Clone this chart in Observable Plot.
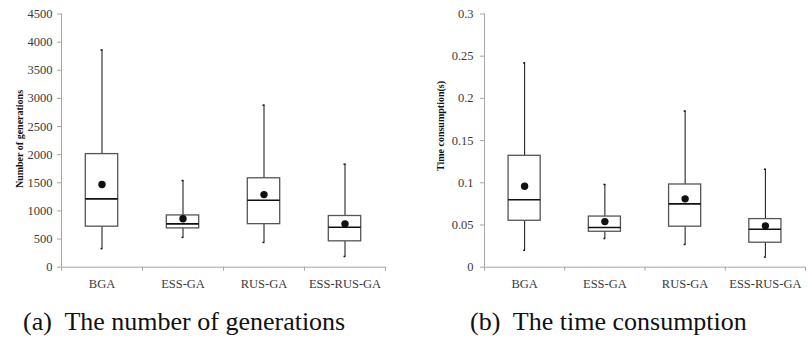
<!DOCTYPE html>
<html>
<head>
<meta charset="utf-8">
<script src="https://cdn.jsdelivr.net/npm/d3@7"></script>
<script src="https://cdn.jsdelivr.net/npm/@observablehq/plot@0.6"></script>
<style>
  html, body { margin: 0; padding: 0; background: #fff; }
  #wrap { position: relative; width: 809px; height: 343px; overflow: hidden;
          font-family: "Liberation Serif", Tinos, "Times New Roman", "Nimbus Roman", FreeSerif, "DejaVu Serif", serif; }
  .panel { position: absolute; top: 0; }
  .ytitle { position: absolute; transform: translate(-50%, -50%) rotate(-90deg); white-space: nowrap;
            font-weight: bold; font-size: 10px; color: #111; }
  .caption { position: absolute; top: 309px; font-size: 26px; line-height: 26px; color: #111; white-space: nowrap; }
</style>
</head>
<body>
<div id="wrap">
  <div class="panel" id="left" style="left:0px"></div>
  <div class="panel" id="right" style="left:405px"></div>
  <div class="ytitle" style="left:19px; top:139px">Number of generations</div>
  <div class="ytitle" style="left:440px; top:126px">Time consumption(s)</div>
  <div class="caption" style="left:23px">(a)&nbsp; The number of generations</div>
  <div class="caption" style="left:470px">(b)&nbsp; The time consumption</div>
</div>
<script>
const categories = ["BGA", "ESS-GA", "RUS-GA", "ESS-RUS-GA"];

// (a) Number of generations
const genMin    = [330, 530, 440, 190];
const genQ1     = [720, 690, 765, 460];
const genMedian = [1215, 770, 1190, 710];
const genQ3     = [2010, 920, 1580, 910];
const genMax    = [3860, 1540, 2880, 1830];
const genMean   = [1470, 860, 1290, 770];
const genTicks      = [0, 500, 1000, 1500, 2000, 2500, 3000, 3500, 4000, 4500];
const genTickLabels = ["0", "500", "1000", "1500", "2000", "2500", "3000", "3500", "4000", "4500"];

// (b) Time consumption (s)
const timeMin    = [0.020, 0.034, 0.027, 0.012];
const timeQ1     = [0.055, 0.042, 0.048, 0.029];
const timeMedian = [0.080, 0.047, 0.075, 0.045];
const timeQ3     = [0.132, 0.060, 0.098, 0.057];
const timeMax    = [0.242, 0.098, 0.185, 0.116];
const timeMean   = [0.096, 0.054, 0.081, 0.049];
const timeTicks      = [0, 0.05, 0.1, 0.15, 0.2, 0.25, 0.3];
const timeTickLabels = ["0", "0.05", "0.1", "0.15", "0.2", "0.25", "0.3"];

const serifStack = "'Liberation Serif', Tinos, 'Times New Roman', 'Nimbus Roman', FreeSerif, 'DejaVu Serif', serif";

function boxChart({mins, q1s, medians, q3s, maxs, means, ticks, tickLabels, width, marginLeft, marginRight, tickPadding}) {
  const rows = categories.map((c, i) => ({
    name: c, c: i + 0.5,
    min: mins[i], q1: q1s[i], median: medians[i], q3: q3s[i], max: maxs[i], mean: means[i]
  }));
  const half = 0.2, cap = 0.012;
  const axisGray = "#a6a6a6";
  const textGray = "#3a3a3a";
  return Plot.plot({
    width, height: 300,
    marginTop: 13.5, marginBottom: 33.3, marginLeft, marginRight,
    x: {domain: [0, categories.length], axis: null},
    y: {domain: [ticks[0], ticks[ticks.length - 1]], axis: null},
    style: {fontFamily: serifStack, fontSize: "12.5px", background: "white", overflow: "visible"},
    marks: [
      Plot.axisY({ticks, tickFormat: d => tickLabels[ticks.indexOf(d)], tickSize: 4, tickPadding,
                  stroke: axisGray, fill: textGray, fontSize: 12.5, label: null}),
      Plot.axisX({ticks: d3.range(categories.length + 1), tickFormat: () => "", tickSize: 4,
                  stroke: axisGray, label: null}),
      Plot.axisX({ticks: rows.map(d => d.c), tickFormat: d => categories[Math.floor(d)], tickSize: 0, tickPadding: 12,
                  fill: textGray, fontSize: 12.5, label: null}),
      Plot.ruleX([0], {stroke: axisGray, strokeWidth: 1}),
      Plot.ruleY([ticks[0]], {stroke: axisGray, strokeWidth: 1}),
      Plot.ruleX(rows, {x: "c", y1: "min", y2: "max", stroke: "#111", strokeWidth: 1}),
      Plot.ruleY(rows, {y: "min", x1: d => d.c - cap, x2: d => d.c + cap, stroke: "#111", strokeWidth: 1.5}),
      Plot.ruleY(rows, {y: "max", x1: d => d.c - cap, x2: d => d.c + cap, stroke: "#111", strokeWidth: 1.5}),
      Plot.rect(rows, {x1: d => d.c - half, x2: d => d.c + half, y1: "q1", y2: "q3",
                       fill: "white", stroke: "#555", strokeWidth: 1.3}),
      Plot.ruleY(rows, {y: "median", x1: d => d.c - half, x2: d => d.c + half, stroke: "#111", strokeWidth: 1.6}),
      Plot.dot(rows, {x: "c", y: "mean", r: 3.7, fill: "#111", stroke: "none"})
    ]
  });
}

document.getElementById("left").append(boxChart({
  mins: genMin, q1s: genQ1, medians: genMedian, q3s: genQ3, maxs: genMax, means: genMean,
  ticks: genTicks, tickLabels: genTickLabels,
  width: 400, marginLeft: 61, marginRight: 15, tickPadding: 5
}));
document.getElementById("right").append(boxChart({
  mins: timeMin, q1s: timeQ1, medians: timeMedian, q3s: timeQ3, maxs: timeMax, means: timeMean,
  ticks: timeTicks, tickLabels: timeTickLabels,
  width: 404, marginLeft: 79, marginRight: 4, tickPadding: 7
}));
</script>
</body>
</html>
